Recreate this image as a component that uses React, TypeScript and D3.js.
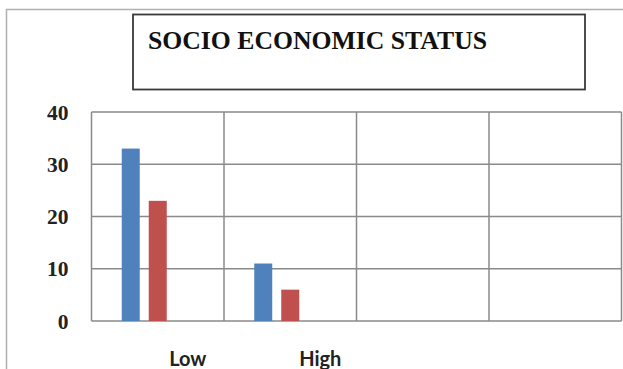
import React from "react";
import * as d3 from "d3";

const title = "SOCIO ECONOMIC STATUS";
const categories = ["Low", "High", "", ""];
const seriesNames = ["Series1", "Series2", "Series3"];
const series1 = [33, 11, 0, 0];
const series2 = [23, 6, 0, 0];
const series3 = [0, 0, 0, 0];
const yTicks = [0, 10, 20, 30, 40];

const W = 623;
const H = 369;
const colors = ["#4F81BD", "#C0504D", "#9BBB59"];

export default function App() {
  const plot = { left: 91.5, right: 621.5, top: 112, bottom: 321 };
  const x = d3
    .scaleBand<number>()
    .domain(d3.range(categories.length))
    .range([plot.left, plot.right])
    .padding(0);
  const inner = d3
    .scaleBand<number>()
    .domain(d3.range(seriesNames.length))
    .range([0, x.bandwidth()])
    .paddingInner(1 / 3)
    .paddingOuter(1.12);
  const y = d3.scaleLinear().domain([0, 40]).range([plot.bottom, plot.top]);
  const all = [series1, series2, series3];
  const bounds = d3.range(categories.length + 1).map((i) =>
    i < categories.length ? (x(i) as number) : plot.right
  );
  const grid = "#8a8a8a";

  return (
    <svg
      width={W}
      height={H}
      style={{ position: "absolute", left: 0, top: 0, background: "#fff" }}
    >
      <rect x={6.5} y={9.5} width={W + 10} height={H + 10} fill="none" stroke="#b0b0b0" strokeWidth={1.5} />
      <rect x={133} y={14.5} width={452} height={75} fill="#fff" stroke="#3a3a3a" strokeWidth={1.8} />
      <text
        x={148}
        y={48.5}
        fontFamily="'Liberation Serif', 'Times New Roman', serif"
        fontWeight="bold"
        fontSize={24.5}
        fill="#111"
        textLength={339}
        lengthAdjust="spacingAndGlyphs"
      >
        {title}
      </text>
      {yTicks.map((t) => (
        <line key={"h" + t} x1={plot.left} x2={plot.right} y1={y(t)} y2={y(t)} stroke={grid} strokeWidth={1.5} />
      ))}
      {bounds.map((b, i) => (
        <line key={"v" + i} x1={b} x2={b} y1={plot.top} y2={plot.bottom} stroke={grid} strokeWidth={1.5} />
      ))}
      {all.map((vals, s) =>
        vals.map((v, i) =>
          v > 0 ? (
            <rect
              key={s + "-" + i}
              x={(x(i) as number) + (inner(s) as number)}
              y={y(v)}
              width={inner.bandwidth()}
              height={y(0) - y(v)}
              fill={colors[s]}
            />
          ) : null
        )
      )}
      {yTicks.map((t) => (
        <text
          key={"yl" + t}
          x={68.5}
          y={y(t)}
          dy="0.35em"
          textAnchor="end"
          fontFamily="'Liberation Serif', 'Times New Roman', serif"
          fontWeight="bold"
          fontSize={21.5}
          fill="#222"
        >
          {t}
        </text>
      ))}
      {categories.map((c, i) => (
        <text
          key={"xl" + i}
          x={(x(i) as number) + x.bandwidth() / 2 + 30}
          y={366}
          textAnchor="middle"
          fontFamily="Lato, 'Noto Sans', sans-serif"
          fontWeight="bold"
          fontSize={20}
          fill="#222"
        >
          {c}
        </text>
      ))}
    </svg>
  );
}
